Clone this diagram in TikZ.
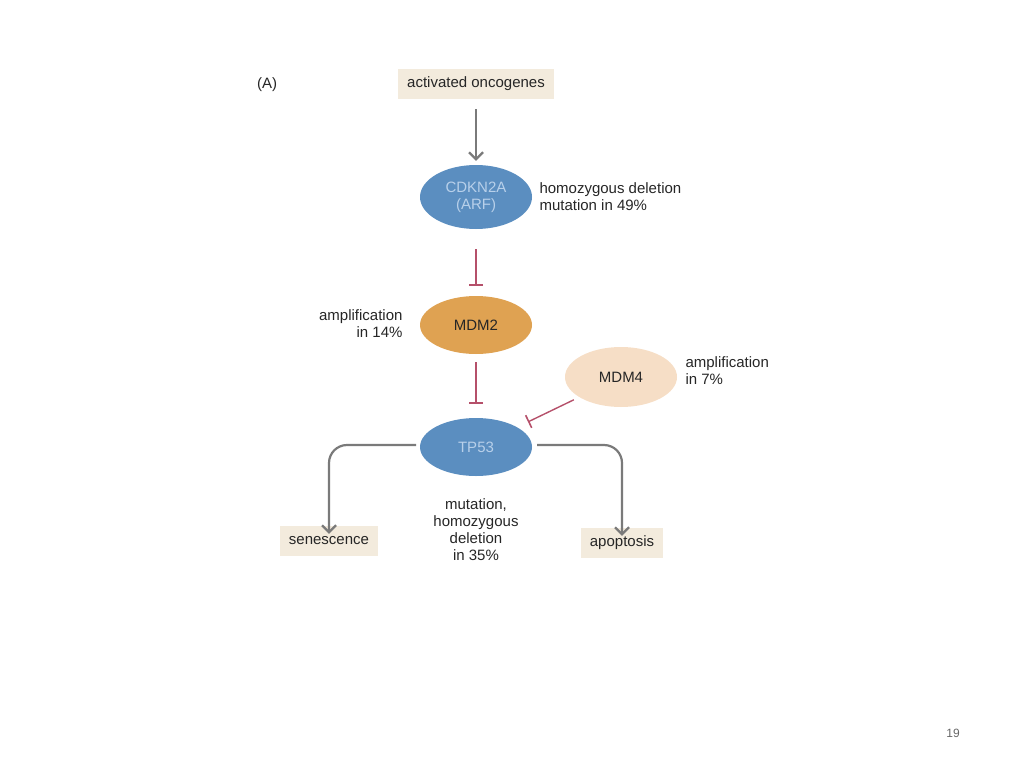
\documentclass[tikz,border=0pt]{standalone}
\usepackage{fontspec}
\setmainfont{Liberation Sans}
\usetikzlibrary{arrows.meta,shapes.geometric}
\definecolor{beige}{HTML}{F3EBDD}
\definecolor{blu}{HTML}{5B8EC0}
\definecolor{org}{HTML}{DFA252}
\definecolor{pea}{HTML}{F6DEC6}
\definecolor{inh}{HTML}{B5506A}
\definecolor{arr}{HTML}{7A7A7A}
\definecolor{ltxt}{HTML}{B8D0EA}
\begin{document}
\begin{tikzpicture}[x=1pt,y=-1pt,
  every node/.style={font=\fontsize{15}{17}\selectfont,text=black!85},
  boxn/.style={fill=beige,minimum height=30pt,inner xsep=9pt},
  ell/.style={ellipse,minimum width=112pt,minimum height=58pt,align=center,inner sep=1pt},
  lab/.style={align=left},
  inhib/.style={draw=inh,line width=1.4pt,-{Bar[width=14pt,line width=1.6pt]}},
  act/.style={draw=arr,line width=2.2pt,-{Straight Barb[length=7pt,width=14pt]},rounded corners=18pt}]
\useasboundingbox (0,0) rectangle (1024,768);
\node (A) at (267,85) {(A)};
\node[boxn] (onc) at (476,84) {activated oncogenes};
\node[ell,fill=blu,text=ltxt,minimum height=64pt] (cdk) at (476,197) {CDKN2A\\(ARF)};
\node[lab,anchor=west] (l1) at (536,197) {homozygous deletion\\mutation in 49\%};
\node[ell,fill=org] (mdm2) at (476,325) {MDM2};
\node[align=right,anchor=east] (l2) at (406,324) {amplification\\in 14\%};
\node[ell,fill=pea,minimum height=60pt] (mdm4) at (621,377) {MDM4};
\node[lab,anchor=west] (l3) at (682,371) {amplification\\in 7\%};
\node[ell,fill=blu,text=ltxt] (tp) at (476,447) {TP53};
\node[align=center] (l4) at (476,530) {mutation,\\homozygous\\deletion\\in 35\%};
\node[boxn] (sen) at (329,541) {senescence};
\node[boxn] (apo) at (622,543) {apoptosis};
\node[font=\fontsize{12}{14}\selectfont,text=black!60] (pg) at (953,733) {19};
\draw[act,shorten <=10pt,shorten >=4pt] (onc) -- (cdk);
\draw[inhib,shorten <=20pt,shorten >=10pt] (cdk) -- (mdm2);
\draw[inhib,shorten <=8pt,shorten >=14pt] (mdm2) -- (tp);
\draw[inhib,shorten <=6pt,shorten >=12pt] (mdm4) -- (tp);
\coordinate (c1) at (416,445);
\coordinate (c2) at (537,445);
\draw[act] (c1) -| ([yshift=-8pt]sen.north);
\draw[act] (c2) -| ([yshift=-8pt]apo.north);
\end{tikzpicture}
\end{document}
